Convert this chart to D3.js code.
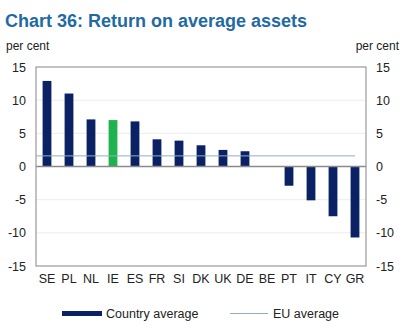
<!DOCTYPE html>
<html>
<head>
<meta charset="utf-8">
<script src="https://cdn.jsdelivr.net/npm/d3@7/dist/d3.min.js"></script>
<style>
  body { margin: 0; background: #fff; }
  svg { display: block; font-family: "Liberation Sans", Arial, sans-serif; }
</style>
</head>
<body>
<div id="chart"></div>
<script>
const countries = ['SE', 'PL', 'NL', 'IE', 'ES', 'FR', 'SI', 'DK', 'UK', 'DE', 'BE', 'PT', 'IT', 'CY', 'GR'];
const countryAvg = [12.9, 11.0, 7.1, 7.0, 6.8, 4.1, 3.9, 3.2, 2.5, 2.3, 0, -2.9, -5.1, -7.5, -10.7];
const euAvg = 1.6;
const highlight = 'IE';
const yTicks = [-15, -10, -5, 0, 5, 10, 15];

const width = 402, height = 336;
const plotL = 36, plotR = 366, plotT = 67, plotB = 266;

const svg = d3.select('#chart').append('svg')
    .attr('width', width)
    .attr('height', height);

const x = d3.scaleBand()
    .domain(countries)
    .range([plotL, plotR])
    .paddingInner(0.6)
    .paddingOuter(0.3);
const y = d3.scaleLinear()
    .domain([-15, 15])
    .range([plotB, plotT]);

// title
svg.append('text')
    .attr('x', 5).attr('y', 27)
    .attr('fill', '#1f6aa5')
    .attr('font-size', 18)
    .attr('font-weight', 'bold')
    .text('Chart 36: Return on average assets');

svg.append('text').attr('x', 6).attr('y', 50)
    .attr('font-size', 12).attr('fill', '#222').text('per cent');
svg.append('text').attr('x', 399).attr('y', 50)
    .attr('font-size', 12).attr('fill', '#222')
    .attr('text-anchor', 'end').text('per cent');

// gridlines
svg.append('g').selectAll('line')
    .data(yTicks.filter(d => d !== 0 && Math.abs(d) !== 15))
    .join('line')
    .attr('x1', plotL).attr('x2', plotR)
    .attr('y1', d => y(d)).attr('y2', d => y(d))
    .attr('stroke', '#ececec');

// axes (labels only), plain hyphen for negatives
const fmt = d => String(d);
const yl = svg.append('g').attr('transform', `translate(${plotL},0)`)
    .call(d3.axisLeft(y).tickValues(yTicks).tickFormat(fmt).tickSize(0).tickPadding(10));
const yr = svg.append('g').attr('transform', `translate(${plotR},0)`)
    .call(d3.axisRight(y).tickValues(yTicks).tickFormat(fmt).tickSize(0).tickPadding(10));
[yl, yr].forEach(g => {
    g.select('.domain').remove();
    g.selectAll('text').attr('font-size', 12.5).attr('fill', '#222')
        .attr('font-family', '"Liberation Sans", Arial, sans-serif');
});

const xa = svg.append('g').attr('transform', `translate(0,${plotB})`)
    .call(d3.axisBottom(x).tickSize(0).tickPadding(8));
xa.select('.domain').remove();
xa.selectAll('text').attr('font-size', 12.5).attr('fill', '#222')
    .attr('font-family', '"Liberation Sans", Arial, sans-serif');

// bars
svg.append('g').selectAll('rect')
    .data(countries.map((c, i) => ({c, v: countryAvg[i]})))
    .join('rect')
    .attr('x', d => x(d.c))
    .attr('width', x.bandwidth())
    .attr('y', d => y(Math.max(0, d.v)))
    .attr('height', d => Math.abs(y(d.v) - y(0)))
    .attr('fill', d => d.c === highlight ? '#1fb34f' : '#0a2264');

// EU average line
svg.append('line')
    .attr('x1', plotL)
    .attr('x2', x(countries[countries.length - 1]) + x.bandwidth() / 2)
    .attr('y1', y(euAvg)).attr('y2', y(euAvg))
    .attr('stroke', '#8fb0c4').attr('stroke-width', 1);

// zero line
svg.append('line')
    .attr('x1', plotL).attr('x2', plotR)
    .attr('y1', y(0)).attr('y2', y(0))
    .attr('stroke', '#8a8a8a').attr('stroke-width', 1.5);

// plot frame
svg.append('rect')
    .attr('x', plotL).attr('y', plotT)
    .attr('width', plotR - plotL).attr('height', plotB - plotT)
    .attr('fill', 'none').attr('stroke', '#999').attr('stroke-width', 1.2);

// legend
const lg = svg.append('g');
lg.append('rect').attr('x', 62).attr('y', 311).attr('width', 40).attr('height', 5)
    .attr('fill', '#0a2264');
lg.append('text').attr('x', 106).attr('y', 318).attr('font-size', 12.5)
    .attr('fill', '#222').text('Country average');
lg.append('line').attr('x1', 230).attr('x2', 268).attr('y1', 313.5).attr('y2', 313.5)
    .attr('stroke', '#8fb0c4');
lg.append('text').attr('x', 273).attr('y', 318).attr('font-size', 12.5)
    .attr('fill', '#222').text('EU average');
</script>
</body>
</html>
